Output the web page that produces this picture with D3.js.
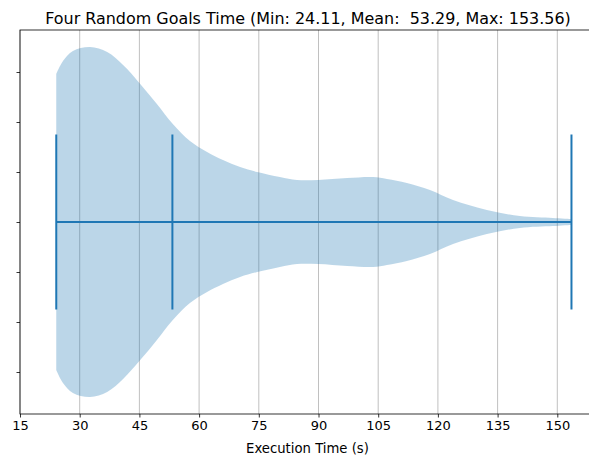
<!DOCTYPE html>
<html>
<head>
<meta charset="utf-8">
<script src="https://cdn.jsdelivr.net/npm/d3@7"></script>
<style>
  html, body { margin: 0; padding: 0; background: #fff; }
  svg { display: block; }
  text { font-family: "DejaVu Sans", sans-serif; fill: #000; }
</style>
</head>
<body>
<svg id="chart" width="589" height="462"></svg>
<script>
// ---- data ----
const chartTitle = "Four Random Goals Time (Min: 24.11, Mean:  53.29, Max: 153.56)";
const xLabel = "Execution Time (s)";
const xTicks = [15, 30, 45, 60, 75, 90, 105, 120, 135, 150];
const yTicks = [-3, -2, -1, 0, 1, 2, 3];
const statMin = 24.11;
const statMean = 53.29;
const statMax = 153.56;
// KDE outline: value -> relative density (max = 1)
const kdeValues = [24.11, 25.8, 28.3, 32.6, 36.9, 40.9, 45.2, 49.4, 53.4, 57.7, 62.0, 66.0, 70.3, 74.6, 80.3, 84.6, 89.9, 97.2, 103.7, 107.2, 112.2, 118.0, 123.8, 132.3, 140.6, 148.9, 153.56];
const kdeDensity = [0.846, 0.92, 0.977, 1.0, 0.971, 0.897, 0.789, 0.674, 0.56, 0.463, 0.4, 0.354, 0.314, 0.286, 0.257, 0.24, 0.24, 0.251, 0.257, 0.246, 0.223, 0.183, 0.126, 0.069, 0.034, 0.023, 0.017];

(function () {
// ---- layout ----
const svg = d3.select("#chart");
const mLeft = 20, mRight = 590, mTop = 30, mBottom = 414;
const violinHalf = 3.5;   // half-width of the violin in y units
const statHalf = 1.75;    // half-length of the min/mean/max bars

const x = d3.scaleLinear().domain([15, 15 + (mRight - mLeft) / 3.98]).range([mLeft, mRight]);
const y = d3.scaleLinear().domain([-3.84, 3.84]).range([mBottom, mTop]);
const C0 = "#1f77b4";

// grid
svg.append("g").selectAll("line").data(xTicks).join("line")
  .attr("x1", d => x(d)).attr("x2", d => x(d))
  .attr("y1", mTop).attr("y2", mBottom)
  .attr("stroke", "#b0b0b0").attr("stroke-width", 0.8);

// violin body
const kde = kdeValues.map((v, i) => ({ v, d: kdeDensity[i] }));
const area = d3.area()
  .x(p => x(p.v))
  .y0(p => y(-p.d * violinHalf))
  .y1(p => y(p.d * violinHalf))
  .curve(d3.curveCatmullRom.alpha(0.5));
svg.append("path").datum(kde)
  .attr("d", area)
  .attr("fill", C0).attr("fill-opacity", 0.3).attr("stroke", "none");

// stat lines
const g = svg.append("g").attr("stroke", C0).attr("stroke-width", 2);
g.selectAll("line.v").data([statMin, statMean, statMax]).join("line")
  .attr("class", "v")
  .attr("x1", d => x(d)).attr("x2", d => x(d))
  .attr("y1", y(statHalf)).attr("y2", y(-statHalf));
g.append("line")
  .attr("x1", x(statMin)).attr("x2", x(statMax))
  .attr("y1", y(0)).attr("y2", y(0));

// axes
const xAxis = d3.axisBottom(x).tickValues(xTicks).tickSize(3.5).tickPadding(3.5);
const gx = svg.append("g").attr("transform", `translate(0,${mBottom})`).call(xAxis);
gx.select(".domain").remove();
gx.selectAll(".tick line").attr("stroke", "#000").attr("stroke-width", 0.8);
gx.selectAll(".tick text").attr("font-size", 13).attr("font-family", "DejaVu Sans").attr("fill", "#000");

const yAxis = d3.axisLeft(y).tickValues(yTicks).tickSize(3.5).tickFormat("");
const gy = svg.append("g").attr("transform", `translate(${mLeft},0)`).call(yAxis);
gy.select(".domain").remove();
gy.selectAll(".tick line").attr("stroke", "#000").attr("stroke-width", 0.8);

// spines
svg.append("rect")
  .attr("x", mLeft).attr("y", mTop)
  .attr("width", mRight - mLeft).attr("height", mBottom - mTop)
  .attr("fill", "none").attr("stroke", "#000").attr("stroke-width", 0.8);

// title
const t = svg.append("text")
  .attr("x", 308).attr("y", 24)
  .attr("text-anchor", "middle")
  .attr("font-size", 15)
  .style("white-space", "pre")
  .attr("xml:space", "preserve")
  .text(chartTitle);
const tw = t.node().getComputedTextLength();
t.attr("font-size", 15 * 526 / tw);

// x label
const xl = svg.append("text")
  .attr("x", 307.5).attr("y", 453)
  .attr("text-anchor", "middle")
  .attr("font-size", 13)
  .text(xLabel);
const xw = xl.node().getComputedTextLength();
xl.attr("font-size", 13 * 123 / xw);
})();
</script>
</body>
</html>
